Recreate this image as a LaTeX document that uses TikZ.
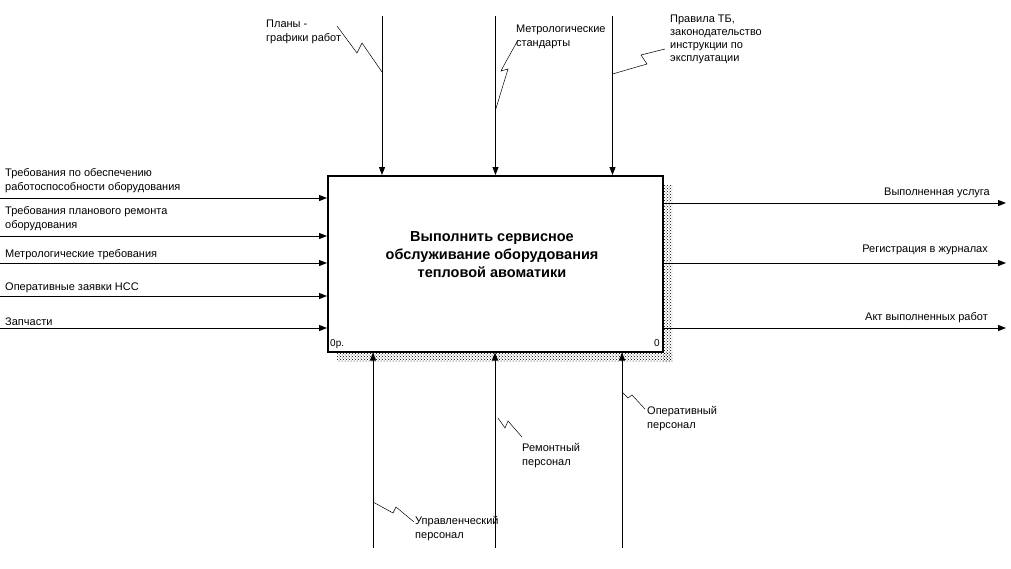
\documentclass[tikz,border=0pt]{standalone}
\usepackage{fontspec}
\setmainfont{Liberation Sans}
\usetikzlibrary{arrows.meta,patterns}
\begin{document}
\begin{tikzpicture}[x=1pt,y=-1pt,
  arr/.style={line width=1pt,-{Triangle[length=8pt,width=6pt]}},
  lbl/.style={font=\fontsize{11}{13.5}\selectfont, inner sep=0pt, align=left, anchor=base west},
  rlbl/.style={font=\fontsize{11}{13.5}\selectfont, inner sep=0pt, align=right, anchor=base east},
  sq/.style={line width=0.5pt},
  shadowfill/.style={pattern=crosshatch dots, pattern color=black}]
\useasboundingbox (0,0) rectangle (1011,568);
% shadow
\fill[shadowfill] (663,185) rectangle (672,361);
\fill[shadowfill] (337,352) rectangle (672,361);
% box
\node[draw, fill=white, line width=1.5pt, minimum width=335pt, minimum height=176pt, inner sep=0pt, anchor=north west] (box) at (327,175) {};
\node[font=\bfseries\fontsize{14.5}{18}\selectfont, align=center] (title) at (492,255)
  {Выполнить сервисное\\обслуживание оборудования\\тепловой авоматики};
\node[font=\fontsize{10}{12}\selectfont, inner sep=0pt, anchor=base west] (num) at (330,346) {0р.};
\node[font=\fontsize{10}{12}\selectfont, inner sep=0pt, anchor=base east] (num2) at (660,346) {0};
% inputs
\coordinate (i1) at (0,198);
\coordinate (i2) at (0,236);
\coordinate (i3) at (0,263);
\coordinate (i4) at (0,296);
\coordinate (i5) at (0,328);
\foreach \c in {i1,i2,i3,i4,i5} \draw[arr] (\c) -- (\c -| box.west);
\node[lbl] (li1) at (5,190) {Требования по обеспечению\\работоспособности оборудования};
\node[lbl] (li2) at (5,228) {Требования планового ремонта\\оборудования};
\node[lbl] (li3) at (5,257) {Метрологические требования};
\node[lbl] (li4) at (5,290) {Оперативные заявки НСС};
\node[lbl] (li5) at (5,325) {Запчасти};
% outputs
\coordinate (o1) at (1006,203);
\coordinate (o2) at (1006,263);
\coordinate (o3) at (1006,328);
\foreach \c in {o1,o2,o3} \draw[arr] (\c -| box.east) -- (\c);
\node[rlbl] (lo1) at (990,195) {Выполненная услуга};
\node[rlbl] (lo2) at (988,252) {Регистрация в журналах};
\node[rlbl] (lo3) at (988,320) {Акт выполненных работ};
% controls
\coordinate (c1) at (382,16);
\coordinate (c2) at (495.5,16);
\coordinate (c3) at (612.5,16);
\foreach \c in {c1,c2,c3} \draw[arr] (\c) -- (\c |- box.north);
\node[lbl] (lc1) at (266,41) {Планы -\\графики работ};
\node[lbl] (lc2) at (516,46) {Метрологические\\стандарты};
\node[lbl, font=\fontsize{11}{12.8}\selectfont] (lc3) at (670,61) {Правила ТБ,\\законодательство\\инструкции по\\эксплуатации};
\coordinate (s1a) at (337,26);  \coordinate (s1b) at (382,72);
\draw[sq] (s1a) -- (357,53) -- (362,43) -- (s1b);
\coordinate (s2a) at (518,40);  \coordinate (s2b) at (495.5,110);
\draw[sq] (s2a) -- (503,67) -- (501,71) -- (508,69) -- (s2b);
\coordinate (s3a) at (665,49);  \coordinate (s3b) at (612.5,74);
\draw[sq] (s3a) -- (641,55) -- (647,64) -- (s3b);
% mechanisms
\coordinate (m1) at (373,548);
\coordinate (m2) at (495,548);
\coordinate (m3) at (622,548);
\foreach \c in {m1,m2,m3} \draw[arr] (\c) -- (\c |- box.south);
\node[lbl] (lm1) at (415,538) {Управленческий\\персонал};
\node[lbl] (lm2) at (522,465) {Ремонтный\\персонал};
\node[lbl] (lm3) at (647,428) {Оперативный\\персонал};
\coordinate (s4a) at (373,502); \coordinate (s4b) at (414,522);
\draw[sq] (s4a) -- (393,513) -- (396,507) -- (s4b);
\coordinate (s5a) at (498,418); \coordinate (s5b) at (522,437);
\draw[sq] (s5a) -- (505,428) -- (508,421) -- (s5b);
\coordinate (s6a) at (622,392); \coordinate (s6b) at (645,409);
\draw[sq] (s6a) -- (628,398) -- (632,395) -- (s6b);
\end{tikzpicture}
\end{document}
